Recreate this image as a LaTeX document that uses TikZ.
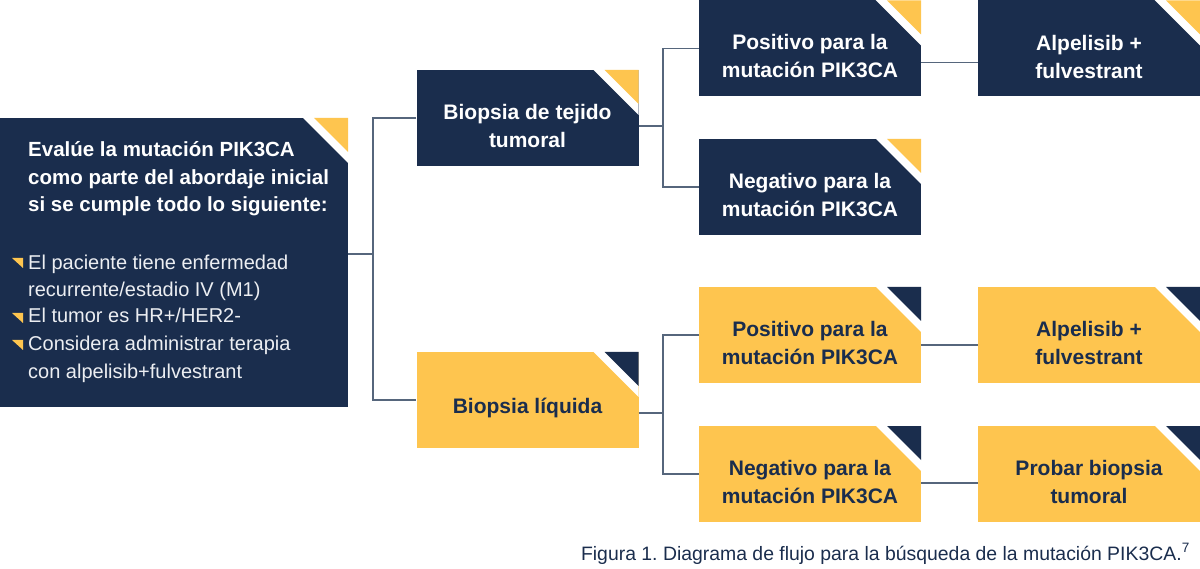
\documentclass[tikz,border=0pt]{standalone}
\usepackage{fontspec}
\setmainfont{Liberation Sans}
\frenchspacing
\definecolor{navy}{HTML}{1A2D4D}
\definecolor{gold}{HTML}{FEC54F}
\definecolor{linegrey}{HTML}{56667C}
\definecolor{paleline}{HTML}{ECEEF2}
\newcommand\boxfont{\fontsize{21}{28}\selectfont\bfseries}
\newcommand\cutcorner[1]{%
	\fill[white] ([shift={(-50,-5)}]path picture bounding box.north east) -- ++(55,55) -- ++(0,-55) -- cycle;
	\fill[#1] (path picture bounding box.north east) -- ++(-34,0) -- ++(34,34) -- cycle;}
\tikzset{
	box/.style={rectangle, minimum width=222pt, minimum height=96pt, inner sep=0pt},
	boxlabel/.style={align=center, font=\boxfont, inner sep=0pt, yshift=-8pt},
	darkbox/.style={box, fill=navy, path picture={\cutcorner{gold}}, label={[boxlabel, text=white]center:#1}},
	goldbox/.style={box, fill=gold, path picture={\cutcorner{navy}}, label={[boxlabel, text=navy]center:#1}},
	listtext/.style={anchor=base west, align=left, inner sep=0pt, text=paleline, font=\fontsize{20}{27.8}\selectfont},
	link/.style={draw=linegrey, line width=1.5pt},
}
\begin{document}
\begin{tikzpicture}[x=1pt, y=-1pt]
		\useasboundingbox (0,0) rectangle (1200,569);

		\node (eval)[rectangle, fill=navy, minimum width=348pt, minimum height=289pt, path picture={\cutcorner{gold}}]at (174,262.5)  {};
		\node (title)[anchor=base west, align=left, inner sep=0pt, text=white, font=\fontsize{20.5}{27.5}\selectfont\bfseries]at (28,212)  {Evalúe la mutación PIK3CA\\como parte del abordaje inicial\\si se cumple todo lo siguiente:};
		\node (item1)[listtext]at (28,297)  {El paciente tiene enfermedad\\recurrente/estadio IV (M1)};
		\node (item2)[listtext]at (28,323)  {El tumor es HR+/HER2-};
		\node (item3)[listtext]at (28,378)  {Considera administrar terapia\\con alpelisib+fulvestrant};
		\foreach \y in {268,323,350}
			\fill[gold] (12,\y-10) -- (23,\y-10) -- (23,\y) -- cycle;

		\node (tejido)[darkbox={Biopsia de tejido\\tumoral}]at (527.5,118)  {};
		\node (liquida)[goldbox={Biopsia líquida}]at (527.5,400)  {};

		\node (pos1)[darkbox={Positivo para la\\mutación PIK3CA}]at (810,48.5)  {};
		\node (neg1)[darkbox={Negativo para la\\mutación PIK3CA}]at (810,187)  {};
		\node (alp1)[darkbox={Alpelisib +\\fulvestrant}]at (1089,48.5)  {};

		\node (pos2)[goldbox={Positivo para la\\mutación PIK3CA}]at (810,335)  {};
		\node (neg2)[goldbox={Negativo para la\\mutación PIK3CA}]at (810,474)  {};
		\node (alp2)[goldbox={Alpelisib +\\fulvestrant}]at (1089,335)  {};
		\node (probar)[goldbox={Probar biopsia\\tumoral}]at (1089,474)  {};

		\coordinate (j0) at (373,254);
		\coordinate (j1) at (663,126);
		\coordinate (j2) at (663,413);

		\draw [link](eval.east |- j0)--(j0);
		\draw [link](tejido.west) -| (j0) |- (liquida.west);
		\draw [link]([yshift=-8pt]tejido.east)--(j1);
		\draw [link](pos1.west) -| (j1) |- (neg1.west);
		\draw [link]([yshift=-13pt]liquida.east)--(j2);
		\draw [link](pos2.west) -| (j2) |- (neg2.west);
		\draw [link]([yshift=-14pt]pos1.east)--([yshift=-14pt]alp1.west);
		\draw [link]([yshift=-10pt]pos2.east)--([yshift=-10pt]alp2.west);
		\draw [link]([yshift=-9pt]neg2.east)--([yshift=-9pt]probar.west);

		\node (caption)[anchor=base east, inner sep=0pt, text=navy, font=\fontsize{19.4}{22}\selectfont]at (1190,560)  {Figura 1. Diagrama de flujo para la búsqueda de la mutación PIK3CA.\textsuperscript{7}};
	\end{tikzpicture}
\end{document}
